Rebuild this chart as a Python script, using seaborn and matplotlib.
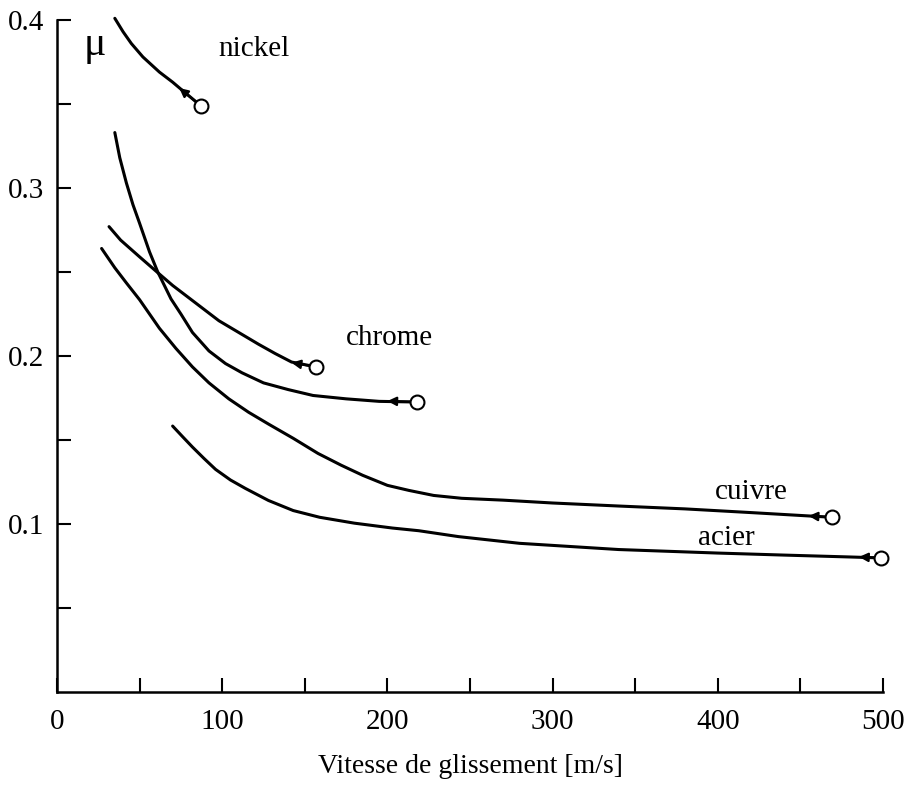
import numpy as np
import pandas as pd
import matplotlib
matplotlib.use("Agg")
import matplotlib.pyplot as plt
import seaborn as sns

# Friction coefficient vs sliding speed
nickel_v = [35, 40, 45, 52, 62, 70, 76, 87]
nickel_mu = [0.401, 0.393, 0.386, 0.378, 0.369, 0.363, 0.358, 0.349]

steep_v = [35, 38, 42, 46, 50, 56, 61, 69, 75, 82, 92, 102, 112, 125, 140, 155, 175, 195, 218]
steep_mu = [0.333, 0.318, 0.303, 0.290, 0.279, 0.262, 0.250, 0.234, 0.225, 0.214, 0.203,
            0.1955, 0.190, 0.184, 0.180, 0.1765, 0.1745, 0.173, 0.1726]

chrome_v = [31.5, 38.5, 50, 61, 70, 80, 90, 98, 110, 122, 132, 142, 157]
chrome_mu = [0.277, 0.269, 0.259, 0.2496, 0.242, 0.2345, 0.227, 0.221, 0.214,
             0.207, 0.2015, 0.1964, 0.1935]

cuivre_v = [27, 35, 42, 50, 62, 72, 82, 92, 104, 116, 128, 143, 158, 172, 185, 200,
            213, 228, 245, 270, 300, 340, 380, 420, 455, 469]
cuivre_mu = [0.264, 0.2525, 0.2435, 0.2335, 0.2165, 0.2045, 0.1935, 0.184, 0.1745, 0.1665,
             0.1595, 0.151, 0.142, 0.135, 0.129, 0.123, 0.120, 0.117, 0.1153, 0.1142,
             0.1125, 0.1107, 0.109, 0.1068, 0.1048, 0.104]

acier_v = [70, 76, 82, 89, 96, 105, 114, 128, 143, 159, 180, 203, 219, 243, 280,
           340, 400, 440, 479, 499]
acier_mu = [0.1583, 0.152, 0.1458, 0.139, 0.1325, 0.1262, 0.1212, 0.114, 0.108, 0.104,
            0.1005, 0.0976, 0.096, 0.0925, 0.0885, 0.0848, 0.0827, 0.0815, 0.0804, 0.0798]

# arrow tips drawn on each curve just before the end circle
arrow_v = [74, 200, 142, 455, 485.5]
arrow_mu = [0.3595, 0.1732, 0.196, 0.1048, 0.0804]

label_names = ["nickel", "chrome", "cuivre", "acier"]
label_v = [119, 201, 420, 405]
label_mu = [0.383, 0.211, 0.119, 0.0917]

xticks = [0, 50, 100, 150, 200, 250, 300, 350, 400, 450, 500]
xtick_labels = ["0", "", "100", "", "200", "", "300", "", "400", "", "500"]
yticks = [0.05, 0.1, 0.15, 0.2, 0.25, 0.3, 0.35, 0.4]
ytick_labels = ["", "0.1", "", "0.2", "", "0.3", "", "0.4"]

sns.set_theme(style="ticks")
plt.rcParams["font.family"] = ["Liberation Serif", "DejaVu Serif"]
plt.rcParams["text.color"] = "black"
plt.rcParams["axes.labelcolor"] = "black"

fig = plt.figure(figsize=(9.08, 7.88), dpi=100)
ax = fig.add_axes([57 / 908, 1 - 692 / 788, (883 - 57) / 908, (692 - 20) / 788])

curves = [(nickel_v, nickel_mu), (steep_v, steep_mu), (chrome_v, chrome_mu),
          (cuivre_v, cuivre_mu), (acier_v, acier_mu)]
for v, mu in curves:
    sns.lineplot(x=v, y=mu, ax=ax, color="black", lw=2.2, estimator=None,
                 sort=False, clip_on=False)

end_v = [c[0][-1] for c in curves]
end_mu = [c[1][-1] for c in curves]
for tv, tm, ev, em in zip(arrow_v, arrow_mu, end_v, end_mu):
    ax.annotate("", xy=(tv, tm), xytext=(ev, em),
                arrowprops=dict(arrowstyle="-|>", color="black", lw=1.6,
                                mutation_scale=13, shrinkA=4, shrinkB=0))
ax.plot(end_v, end_mu, "o", ms=10, mfc="white", mec="black", mew=1.5,
        clip_on=False, zorder=5)

for name, v, mu in zip(label_names, label_v, label_mu):
    ax.text(v, mu, name, fontsize=21, ha="center", va="center", color="black")

ax.text(16, 0.379, "μ", fontsize=30, ha="left", va="baseline", color="black")

ax.set_xlim(0, 500)
ax.set_ylim(0, 0.4)
ax.set_xticks(xticks)
ax.set_xticklabels(xtick_labels)
ax.set_yticks(yticks)
ax.set_yticklabels(ytick_labels)
ax.tick_params(axis="both", direction="in", length=10, width=1.5,
               labelsize=21, color="black", labelcolor="black")
ax.tick_params(axis="x", pad=12)
ax.tick_params(axis="y", pad=9)
ax.set_xlabel("Vitesse de glissement [m/s]", fontsize=20, labelpad=14)
ax.set_ylabel("")
for side in ["left", "bottom"]:
    ax.spines[side].set_linewidth(1.8)
    ax.spines[side].set_color("black")
sns.despine(ax=ax)

fig.savefig("out.png", dpi=100)
